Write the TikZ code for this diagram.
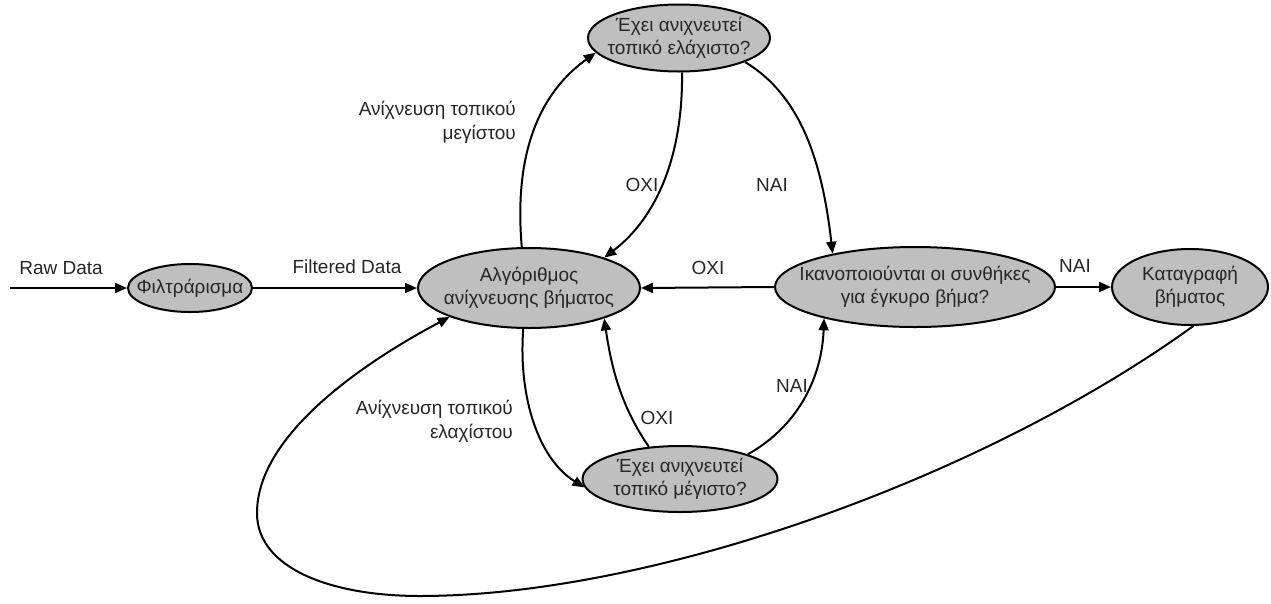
\documentclass[tikz,border=0pt]{standalone}
\usepackage{fontspec}
\setmainfont{Liberation Sans}
\usetikzlibrary{arrows.meta,shapes.geometric}
\begin{document}
\begin{tikzpicture}[x=1pt,y=-1pt,
  state/.style={ellipse,draw=black,line width=2pt,fill=black!25,inner sep=0pt},
  stxt/.style={align=center,font=\fontsize{19}{23}\selectfont,text=black!85,inner sep=0pt},
  lbl/.style={font=\fontsize{19}{24}\selectfont,text=black!85,inner sep=0pt},
  arr/.style={line width=2pt,-{Triangle[length=12pt,width=10pt]}}]
\useasboundingbox (0,0) rectangle (1271,603);
\node[state,minimum width=124pt,minimum height=48pt,label={[stxt]center:Φιλτράρισμα}] (filt) at (190,288) {};
\node[state,minimum width=222pt,minimum height=80pt,label={[stxt]center:{Αλγόριθμος\\ανίχνευσης βήματος}}] (alg) at (529,288) {};
\node[state,minimum width=182pt,minimum height=67pt,label={[stxt]center:{Έχει ανιχνευτεί\\τοπικό ελάχιστο?}}] (min) at (679,38) {};
\node[state,minimum width=280pt,minimum height=80pt,label={[stxt]center:{Ικανοποιούνται οι συνθήκες\\για έγκυρο βήμα?}}] (ikan) at (915,287) {};
\node[state,minimum width=156pt,minimum height=76pt,label={[stxt]center:{Καταγραφή\\βήματος}}] (kat) at (1190,287) {};
\node[state,minimum width=195pt,minimum height=66pt,label={[stxt]center:{Έχει ανιχνευτεί\\τοπικό μέγιστο?}}] (max) at (680,479) {};
\coordinate (raw) at (10,288);
% connectors
\draw[arr] (raw) -- (filt.west);
\draw[arr] (filt.east) -- (alg.west);
\draw[arr] (alg.100) .. controls (515,170) and (530,100) .. (min.190);
\draw[arr] (min.275) .. controls (683,150) and (660,215) .. (alg.22);
\draw[arr] (min.340) .. controls (800,95) and (822,160) .. (ikan.158);
\draw[arr] (ikan.west) -- (alg.east);
\draw[arr] (ikan.east) -- (kat.west);
\draw[arr] (alg.262) .. controls (518,400) and (540,460) .. (max.185);
\draw[arr] (max.134) .. controls (620,405) and (611,365) .. (alg.338);
\draw[arr] (max.20) .. controls (800,425) and (822,375) .. (ikan.199);
\draw[arr] (kat.275) .. controls (980,480) and (650,596) .. (420,596)
  .. controls (330,596) and (257,568) .. (257,513)
  .. controls (257,440) and (350,370) .. (alg.200);
% labels
\node[lbl] (lraw) at (61,268) {Raw Data};
\node[lbl] (lfilt) at (347,267) {Filtered Data};
\node[lbl,align=right,anchor=east] (lmax) at (516,122) {Ανίχνευση τοπικού\\μεγίστου};
\node[lbl] (l1) at (642,185) {ΟΧΙ};
\node[lbl] (l2) at (772,185) {ΝΑΙ};
\node[lbl] (l3) at (708,268) {ΟΧΙ};
\node[lbl] (l4) at (1075,266) {ΝΑΙ};
\node[lbl,align=right,anchor=east] (lmin) at (513,421) {Ανίχνευση τοπικού\\ελαχίστου};
\node[lbl] (l5) at (657,418) {ΟΧΙ};
\node[lbl] (l6) at (792,386) {ΝΑΙ};
\end{tikzpicture}
\end{document}
